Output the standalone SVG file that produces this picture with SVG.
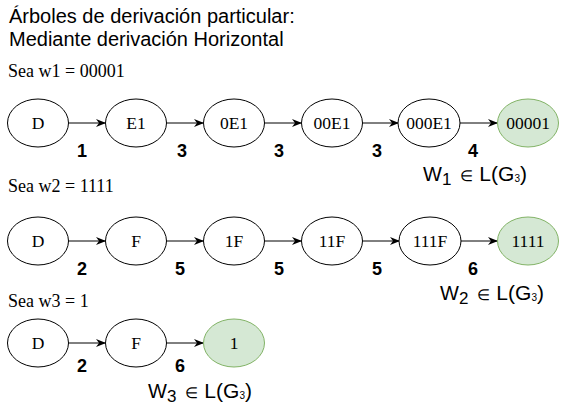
<svg xmlns="http://www.w3.org/2000/svg" width="565" height="412" viewBox="0 0 565 412">
<style>
.t{font-family:"Liberation Sans",Arial,sans-serif;font-size:20px;fill:#000}
.s{font-family:"Liberation Serif","Times New Roman",serif;font-size:18px;fill:#000}
.n ellipse{fill:#fff;stroke:#000;stroke-width:1}
.g ellipse{fill:#d5e8d4;stroke:#82b366;stroke-width:1}
.nt{font-family:"Liberation Serif","Times New Roman",serif;font-size:17.5px;fill:#000;text-anchor:middle;dominant-baseline:central}
.lb{font-family:"Liberation Sans",Arial,sans-serif;font-size:18px;font-weight:bold;fill:#000;text-anchor:middle}
.w{font-family:"Liberation Sans",Arial,sans-serif;font-size:20px;fill:#000}
.w .sb{font-size:17px}
.w .el{font-size:15px}
.w .m{font-size:21px}
.w .tn{font-size:10px}
#edges line{stroke:#000;stroke-width:1;marker-end:url(#ah)}
</style>
<defs>
<marker id="ah" markerWidth="10" markerHeight="8" refX="9" refY="4" orient="auto" markerUnits="userSpaceOnUse">
<path d="M0,0 L10,4 L0,8 L3,4 Z" fill="#000"/>
</marker>
</defs>
<text class="t" x="9" y="23">Árboles de derivación particular:</text>
<text class="t" x="9" y="46">Mediante derivación Horizontal</text>
<text class="s" x="8" y="77">Sea w1 = 00001</text>
<text class="s" x="8" y="192">Sea w2 = 1111</text>
<text class="s" x="8" y="307">Sea w3 = 1</text>

<g id="edges">
<line x1="68" y1="123" x2="105" y2="123"/>
<line x1="166" y1="123" x2="203" y2="123"/>
<line x1="264" y1="123" x2="301" y2="123"/>
<line x1="362" y1="123" x2="398" y2="123"/>
<line x1="460" y1="123" x2="497" y2="123"/>
<line x1="68" y1="241" x2="105" y2="241"/>
<line x1="166" y1="241" x2="203" y2="241"/>
<line x1="264" y1="241" x2="301" y2="241"/>
<line x1="362" y1="241" x2="399" y2="241"/>
<line x1="461" y1="241" x2="497" y2="241"/>
<line x1="68" y1="343" x2="105" y2="343"/>
<line x1="166" y1="343" x2="203" y2="343"/>
</g>

<g id="n1a" class="n"><ellipse cx="38" cy="123" rx="30.5" ry="24"/><text class="nt" x="38" y="123">D</text></g>
<g id="n1b" class="n"><ellipse cx="136" cy="123" rx="30.5" ry="24"/><text class="nt" x="136" y="123">E1</text></g>
<g id="n1c" class="n"><ellipse cx="234" cy="123" rx="30.5" ry="24"/><text class="nt" x="234" y="123">0E1</text></g>
<g id="n1d" class="n"><ellipse cx="332" cy="123" rx="30.5" ry="24"/><text class="nt" x="332" y="123">00E1</text></g>
<g id="n1e" class="n"><ellipse cx="429" cy="123" rx="31" ry="24"/><text class="nt" x="429" y="123">000E1</text></g>
<g id="n1f" class="g"><ellipse cx="528" cy="123" rx="30.5" ry="24"/><text class="nt" x="528" y="123">00001</text></g>

<g id="n2a" class="n"><ellipse cx="38" cy="241" rx="30.5" ry="24"/><text class="nt" x="38" y="241">D</text></g>
<g id="n2b" class="n"><ellipse cx="136" cy="241" rx="30.5" ry="24"/><text class="nt" x="136" y="241">F</text></g>
<g id="n2c" class="n"><ellipse cx="234" cy="241" rx="30.5" ry="24"/><text class="nt" x="234" y="241">1F</text></g>
<g id="n2d" class="n"><ellipse cx="332" cy="241" rx="30.5" ry="24"/><text class="nt" x="332" y="241">11F</text></g>
<g id="n2e" class="n"><ellipse cx="430" cy="241" rx="31" ry="24"/><text class="nt" x="430" y="241">111F</text></g>
<g id="n2f" class="g"><ellipse cx="528" cy="241" rx="30.5" ry="24"/><text class="nt" x="528" y="241">1111</text></g>

<g id="n3a" class="n"><ellipse cx="38" cy="343" rx="30.5" ry="24"/><text class="nt" x="38" y="343">D</text></g>
<g id="n3b" class="n"><ellipse cx="136" cy="343" rx="30.5" ry="24"/><text class="nt" x="136" y="343">F</text></g>
<g id="n3c" class="g"><ellipse cx="234" cy="343" rx="30.5" ry="24"/><text class="nt" x="234" y="343">1</text></g>

<g id="labels">
<text class="lb" x="82" y="157">1</text>
<text class="lb" x="182" y="157">3</text>
<text class="lb" x="279" y="157">3</text>
<text class="lb" x="377" y="157">3</text>
<text class="lb" x="473" y="157">4</text>
<text class="lb" x="82" y="275">2</text>
<text class="lb" x="180" y="275">5</text>
<text class="lb" x="279" y="275">5</text>
<text class="lb" x="377" y="275">5</text>
<text class="lb" x="473" y="275">6</text>
<text class="lb" x="82" y="372">2</text>
<text class="lb" x="180" y="372">6</text>
</g>

<text class="w" x="423" y="181">W<tspan class="sb" dy="4">1</tspan><tspan class="el" dx="9" dy="-4">∈</tspan><tspan class="m" dx="6">L(G</tspan><tspan class="tn" dy="1">3</tspan><tspan class="m" dy="-1">)</tspan></text>
<text class="w" x="440" y="300">W<tspan class="sb" dy="4">2</tspan><tspan class="el" dx="9" dy="-4">∈</tspan><tspan class="m" dx="6">L(G</tspan><tspan class="tn" dy="1">3</tspan><tspan class="m" dy="-1">)</tspan></text>
<text class="w" x="148" y="398">W<tspan class="sb" dy="4">3</tspan><tspan class="el" dx="9" dy="-4">∈</tspan><tspan class="m" dx="6">L(G</tspan><tspan class="tn" dy="1">3</tspan><tspan class="m" dy="-1">)</tspan></text>
</svg>
